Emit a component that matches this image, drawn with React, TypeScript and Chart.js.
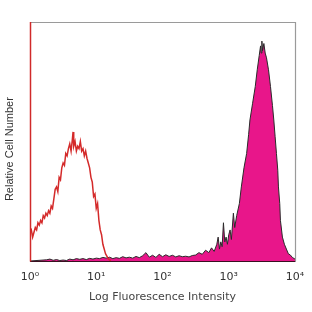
import React, { useEffect, useRef } from "react";
import { Chart, registerables } from "chart.js";

Chart.register(...registerables);

// Decade exponents (log10 of fluorescence intensity) and relative counts (0..100)
const redX = [0.00, 0.02, 0.04, 0.06, 0.08, 0.10, 0.12, 0.14, 0.16, 0.18, 0.20, 0.22, 0.24, 0.26, 0.28, 0.30, 0.32, 0.34, 0.36, 0.38, 0.40, 0.42, 0.44, 0.46, 0.48, 0.50, 0.52, 0.54, 0.56, 0.58, 0.60, 0.62, 0.64, 0.65, 0.66, 0.68, 0.70, 0.72, 0.74, 0.76, 0.78, 0.80, 0.82, 0.84, 0.86, 0.88, 0.90, 0.92, 0.94, 0.96, 0.98, 1.00, 1.02, 1.04, 1.06, 1.08, 1.10, 1.12, 1.14, 1.16, 1.18, 1.20, 1.22];
const redY = [12, 13, 10, 12, 14, 13, 16, 15, 17, 16, 19, 18, 20, 19, 21, 20, 23, 22, 26, 30, 31, 29, 35, 34, 39, 41, 40, 45, 44, 47, 49, 46, 51, 54, 48, 50, 46, 48, 47, 50, 46, 47, 44, 46, 43, 41, 39, 35, 33, 27, 28, 22, 24, 17, 13, 11, 7, 5, 3, 2, 1, 0.5, 0.2];

const pinkX = [0.00, 0.25, 0.30, 0.35, 0.40, 0.45, 0.50, 0.55, 0.60, 0.65, 0.70, 0.75, 0.80, 0.85, 0.90, 0.95, 1.00, 1.05, 1.10, 1.15, 1.20, 1.25, 1.30, 1.35, 1.40, 1.45, 1.50, 1.55, 1.60, 1.65, 1.70, 1.75, 1.80, 1.85, 1.90, 1.95, 2.00, 2.05, 2.10, 2.15, 2.20, 2.25, 2.30, 2.35, 2.40, 2.45, 2.50, 2.55, 2.60, 2.65, 2.70, 2.74, 2.78, 2.82, 2.84, 2.86, 2.88, 2.90, 2.92, 2.94, 2.96, 2.98, 3.00, 3.02, 3.04, 3.07, 3.09, 3.12, 3.16, 3.19, 3.23, 3.27, 3.30, 3.32, 3.36, 3.40, 3.43, 3.46, 3.48, 3.49, 3.50, 3.51, 3.53, 3.55, 3.57, 3.60, 3.63, 3.66, 3.68, 3.70, 3.72, 3.74, 3.75, 3.77, 3.78, 3.81, 3.84, 3.87, 3.90, 3.93, 3.96, 4.00];
const pinkY = [0, 0.5, 0.8, 0.3, 0.6, 0.2, 0.4, 0.2, 0.8, 0.5, 1.0, 0.7, 1.0, 0.6, 1.1, 0.8, 1.2, 1.0, 1.5, 1.2, 1.6, 1.0, 1.4, 1.1, 1.8, 1.3, 1.6, 1.2, 1.9, 1.4, 2.2, 3.5, 1.6, 2.4, 1.5, 2.8, 1.8, 2.6, 1.9, 2.4, 1.7, 2.2, 1.8, 2.0, 1.7, 2.3, 2.5, 3.5, 2.8, 4.5, 3.5, 5.5, 4, 7, 10, 5, 8, 6, 16, 8, 10, 7, 11, 13, 9, 20, 14, 19, 24, 31, 39, 45, 53, 59, 66, 73, 80, 86, 90, 87, 92, 88, 91, 87, 85, 80, 73, 65, 59, 52, 45, 38, 31, 24, 17, 10, 7, 5, 3, 2.5, 1.5, 0.8];

const tickExponents = [0, 1, 2, 3, 4];
const superscripts = ["\u2070", "\u00B9", "\u00B2", "\u00B3", "\u2074"];

const framePlugin = {
  id: "frame",
  afterDatasetsDraw(chart: any) {
    const { ctx, chartArea: a } = chart;
    ctx.save();
    ctx.lineWidth = 1.2;
    ctx.strokeStyle = "#9a9a9a";
    ctx.beginPath();
    ctx.moveTo(a.left, a.top + 0.5);
    ctx.lineTo(a.right + 0.5, a.top + 0.5);
    ctx.lineTo(a.right + 0.5, a.bottom);
    ctx.stroke();
    ctx.strokeStyle = "#3a1020";
    ctx.beginPath();
    ctx.moveTo(a.left, a.bottom + 0.5);
    ctx.lineTo(a.right + 0.5, a.bottom + 0.5);
    ctx.stroke();
    ctx.strokeStyle = "#d02a2a";
    ctx.lineWidth = 1.5;
    ctx.beginPath();
    ctx.moveTo(a.left + 0.5, a.top);
    ctx.lineTo(a.left + 0.5, a.bottom + 0.5);
    ctx.stroke();
    ctx.restore();
  },
};

export default function App() {
  const ref = useRef<HTMLCanvasElement | null>(null);
  useEffect(() => {
    if (!ref.current) return;
    const chart = new Chart(ref.current, {
      type: "line",
      data: {
        datasets: [
          {
            label: "isotype",
            data: redX.map((x, i) => ({ x, y: redY[i] })),
            borderColor: "#d42a2a",
            borderWidth: 1.5,
            fill: false,
            pointRadius: 0,
            tension: 0,
            order: 0,
          },
          {
            label: "stained",
            data: pinkX.map((x, i) => ({ x, y: pinkY[i] })),
            borderColor: "#2a2a2a",
            backgroundColor: "#e8168a",
            borderWidth: 1,
            fill: "origin",
            pointRadius: 0,
            tension: 0,
            order: 1,
          },
        ],
      },
      options: {
        responsive: false,
        animation: false,
        layout: { padding: { left: 0, right: 17, top: 22, bottom: 0 } },
        plugins: { legend: { display: false }, tooltip: { enabled: false } },
        scales: {
          x: {
            type: "linear",
            min: 0,
            max: 4,
            grid: { display: false, drawTicks: false },
            border: { display: false },
            afterBuildTicks: (s: any) => {
              s.ticks = tickExponents.map((v) => ({ value: v }));
            },
            afterFit: (s: any) => {
              s.height = 51;
              s.paddingRight = 0;
              s.paddingLeft = 0;
            },
            ticks: {
              autoSkip: false,
              maxRotation: 0,
              padding: 10,
              color: "#333",
              font: { family: "DejaVu Sans", size: 11 },
              callback: (v: any) => "10" + superscripts[Math.round(Number(v))],
            },
            title: {
              display: true,
              text: "Log Fluorescence Intensity",
              color: "#444",
              font: { family: "DejaVu Sans", size: 11 },
              padding: { top: 0, bottom: 8 },
            },
          },
          y: {
            min: 0,
            max: 100,
            grid: { display: false, drawTicks: false },
            border: { display: false },
            ticks: { display: false },
            afterFit: (s: any) => {
              s.width = 30;
            },
            title: {
              display: true,
              text: "Relative Cell Number     ",
              color: "#333",
              font: { family: "Liberation Sans", size: 11 },
              padding: { top: 3, bottom: 0 },
            },
          },
        },
      },
      plugins: [framePlugin],
    });
    return () => chart.destroy();
  }, []);
  return (
    <div style={{ position: "absolute", left: 0, top: 0, width: 312, height: 312, background: "#fff" }}>
      <canvas ref={ref} width={312} height={312} />
    </div>
  );
}
